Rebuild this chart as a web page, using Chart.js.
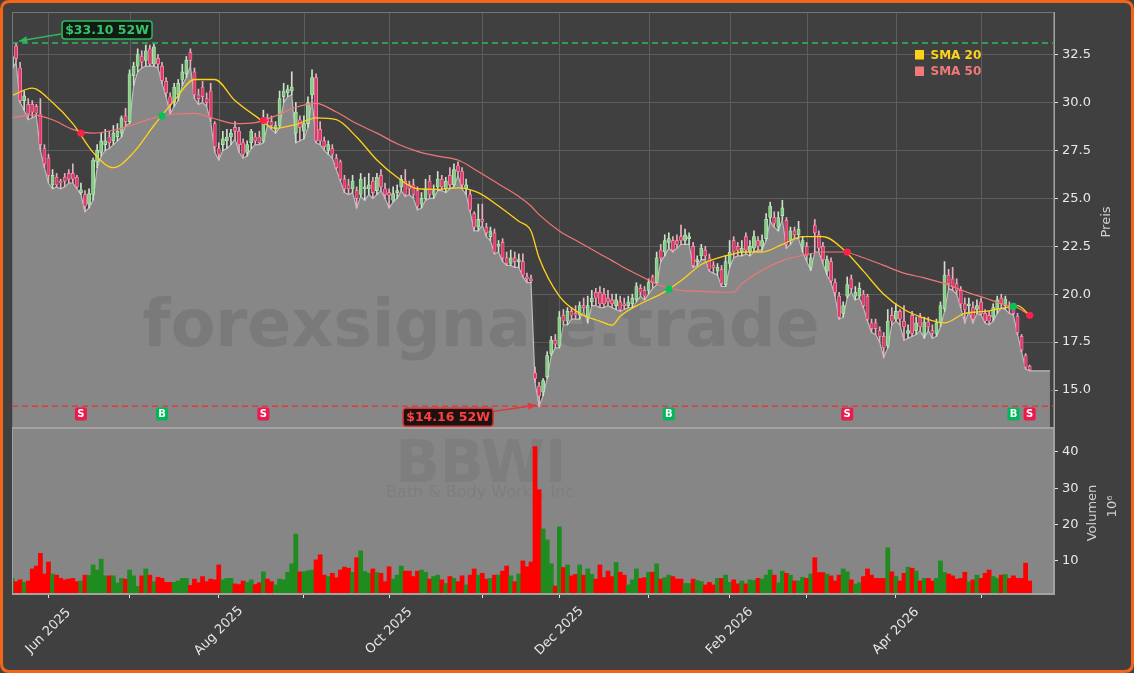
<!DOCTYPE html>
<html><head><meta charset="utf-8">
<script src="https://cdn.jsdelivr.net/npm/chart.js@4.4.1/dist/chart.umd.min.js"></script>
<style>html,body{margin:0;padding:0;background:#404040;overflow:hidden}canvas{display:block}</style>
</head><body>
<canvas id="c" width="1134" height="673"></canvas>
<script>
// ---------- DATA ----------
const startDate = '2025-05-19', endDate = '2026-05-19';
const holidays = ['2025-05-26','2025-06-19','2025-07-04','2025-09-01','2025-11-27','2025-12-25','2026-01-01','2026-01-19','2026-02-16','2026-04-03'];
const labeledMonths = ['Jun 2025','Aug 2025','Oct 2025','Dec 2025','Feb 2026','Apr 2026'];
const priceTicks = [15,17.5,20,22.5,25,27.5,30,32.5];
const volTicks = [10,20,30,40];

const opens = [
31.9,32.95,31.8,30.1,29.9,29.9,29.8,29.4,27.6,27.1,
25.7,26.1,25.9,26.1,26.3,26.3,26.1,25.3,25.2,24.7,
25.2,26.9,27.4,27.8,28.2,28.0,28.2,28.4,29.3,29.0,
31.4,31.9,32.4,32.2,32.8,32.0,32.3,31.9,31.1,30.3,
30.0,30.4,31.2,31.5,32.6,31.6,30.4,30.8,30.2,30.6,
28.9,27.6,27.8,28.0,28.2,28.7,28.5,27.9,27.4,27.9,
28.2,28.2,28.0,29.2,29.0,28.6,28.8,30.3,30.5,30.6,
28.4,29.1,28.5,28.9,30.4,31.3,28.6,28.0,27.5,27.6,
27.1,26.9,26.0,25.7,25.5,25.4,25.2,25.5,25.5,25.9,
25.4,26.2,25.5,25.3,24.9,25.3,25.6,25.9,25.7,25.7,
25.4,24.7,25.0,25.9,25.2,25.6,26.0,25.5,26.2,25.7,
26.7,26.4,25.5,25.2,24.2,23.5,23.9,23.5,23.0,23.2,
22.5,22.7,21.9,21.6,21.9,21.7,21.7,20.9,20.8,15.9,
15.2,14.9,15.7,16.9,17.6,17.3,18.9,18.6,19.1,19.0,
18.9,19.4,18.8,19.6,20.1,20.1,20.0,19.8,19.7,19.4,
19.6,19.5,19.4,19.5,19.7,20.3,20.2,20.2,20.9,20.6,
22.3,22.2,22.7,22.8,22.8,23.0,22.8,22.9,22.5,21.7,
22.0,22.3,21.9,21.5,21.2,21.3,20.5,21.6,22.8,22.5,
22.2,23.0,22.2,22.4,22.8,22.5,22.9,24.0,24.0,23.5,
24.1,23.85,22.8,23.3,23.1,22.5,22.5,21.4,23.6,23.1,
22.5,21.2,21.7,20.6,19.9,19.0,19.9,20.8,19.9,19.9,
20.0,19.9,18.5,18.5,18.1,17.8,17.3,18.9,18.7,19.1,
18.6,17.95,18.9,18.1,18.8,17.9,18.55,18.1,17.95,18.5,
19.25,21.0,20.8,20.55,20.2,19.5,19.4,19.3,19.2,19.6,
19.0,18.9,18.8,19.2,19.8,19.4,19.35,19.2,18.85,17.8,
16.8,16.25];
const highs = [
32.6,33.10,32.1,30.6,30.2,30.1,29.9,30.2,27.8,27.3,
26.5,26.3,26.0,26.3,26.5,26.8,26.2,25.8,25.4,25.5,
27.1,27.8,28.4,28.6,28.5,28.8,28.9,29.3,29.7,31.7,
32.1,32.8,32.7,33.0,33.0,33.05,32.5,32.1,31.3,30.5,
31.0,31.2,32.0,32.4,32.8,31.8,30.7,31.1,30.5,31.0,
29.0,27.9,28.5,28.6,28.6,29.0,28.7,28.1,28.0,28.6,
28.4,28.5,29.6,29.4,29.3,29.0,30.6,31.0,30.9,31.6,
30.0,29.3,29.3,30.3,31.7,31.5,29.0,28.2,28.0,27.8,
27.3,27.0,26.2,26.0,26.2,25.6,26.3,26.1,26.3,26.1,
26.3,26.5,25.8,25.5,25.6,25.7,26.2,26.5,25.9,26.0,
25.6,25.3,26.0,26.2,25.7,26.4,26.2,26.1,26.6,26.8,
26.9,26.6,26.0,25.4,24.3,24.7,24.7,23.7,23.5,23.4,
22.8,22.9,22.2,22.3,22.2,22.1,22.1,21.1,21.0,16.2,
15.4,15.6,17.0,17.8,17.9,19.1,19.2,19.3,19.3,19.4,
19.6,19.8,19.9,20.2,20.3,20.4,20.3,20.2,20.0,20.0,
19.9,19.8,19.9,20.0,20.6,20.5,20.4,20.8,21.0,22.2,
22.6,23.1,23.2,23.0,23.1,23.6,23.4,23.2,22.7,22.0,
22.6,22.5,22.1,21.7,21.6,21.5,22.0,22.8,23.0,22.7,
22.8,23.2,22.8,23.3,23.0,23.1,24.2,24.8,24.3,24.3,
24.9,24.0,23.5,23.5,23.8,23.0,22.7,22.1,23.9,23.3,
22.7,22.0,21.9,20.8,20.1,19.6,20.9,21.0,20.4,20.6,
20.2,20.0,18.7,18.7,18.3,18.0,19.2,19.3,19.5,19.2,
19.4,18.4,19.1,18.8,19.0,18.8,18.8,18.4,18.7,19.6,
21.7,21.3,21.4,20.8,20.4,19.8,19.8,19.6,19.7,19.8,
19.2,19.1,19.5,19.9,20.0,19.9,19.6,19.4,19.0,17.9,
16.9,16.3];
const lows = [
31.7,32.1,30.0,29.6,29.1,29.2,29.3,27.5,26.6,25.8,
25.5,25.6,25.5,25.6,25.8,25.8,25.5,25.2,24.3,24.5,
24.9,26.6,27.2,27.5,27.6,27.8,28.0,28.2,28.8,28.9,
30.9,31.6,31.8,31.9,31.9,31.9,31.8,31.0,30.3,29.4,
29.8,30.1,30.9,31.3,31.9,30.2,29.9,30.0,29.8,29.0,
27.4,27.0,27.5,27.6,27.8,28.1,27.4,27.1,27.2,27.6,
27.8,27.8,27.9,28.8,28.6,28.4,28.7,30.0,30.3,30.4,
27.9,28.0,28.1,28.7,30.2,27.9,27.8,27.5,27.3,27.1,
26.5,25.9,25.3,25.2,25.3,24.5,25.1,24.9,25.2,25.0,
25.2,25.4,25.0,24.5,24.8,25.0,25.4,25.1,25.2,25.0,
24.4,24.5,24.9,25.0,25.0,25.4,25.4,25.3,25.5,25.6,
26.2,25.5,25.2,24.3,23.3,23.3,23.6,23.0,22.8,22.1,
22.2,21.7,21.5,21.5,21.4,21.4,20.9,20.6,20.6,15.4,
14.16,14.7,15.6,16.8,17.2,17.2,18.4,18.4,18.7,18.7,
18.7,19.1,18.5,19.4,19.4,19.3,19.3,19.4,19.3,19.2,
19.1,19.2,19.3,19.3,19.6,19.9,19.7,20.0,20.3,20.5,
21.7,22.0,22.4,22.2,22.4,22.6,22.6,22.6,21.4,21.5,
21.8,21.8,21.2,21.1,21.0,20.4,20.4,21.4,21.9,22.0,
22.0,22.1,22.0,22.2,22.3,22.3,22.8,23.8,23.5,23.3,
23.9,22.4,22.6,22.9,22.9,22.2,21.7,21.25,22.2,22.2,
21.6,21.0,20.6,19.9,18.7,18.8,19.8,20.1,19.7,19.8,
19.3,18.6,18.0,17.9,17.5,16.7,17.2,18.4,18.6,18.4,
17.6,17.7,17.8,17.9,18.1,17.7,18.1,17.7,17.8,18.3,
19.1,20.3,20.2,20.0,19.3,18.5,19.1,18.5,19.0,18.9,
18.5,18.4,18.6,19.0,19.3,19.2,19.0,18.9,17.9,17.0,
16.1,16.0];
const closes = [
32.4,32.3,30.1,30.35,29.4,29.5,29.45,27.8,26.8,26.2,
26.2,25.7,25.8,25.9,26.0,26.0,25.6,25.45,24.6,25.25,
27.0,27.5,28.0,28.0,27.9,28.4,28.5,29.2,29.0,31.5,
31.9,32.5,32.1,32.7,32.0,32.9,32.0,31.15,30.5,29.9,
30.8,31.0,31.6,32.2,32.2,30.4,30.2,30.3,30.0,29.2,
27.7,27.3,28.1,28.2,28.4,28.5,27.8,27.3,27.8,28.5,
28.0,27.9,29.2,29.0,28.8,28.8,30.2,30.6,30.7,30.8,
29.5,28.7,28.9,30.0,31.3,28.0,28.0,27.7,27.8,27.3,
26.6,26.0,25.5,25.5,25.9,25.0,26.0,25.6,25.7,25.3,
26.1,25.6,25.2,25.15,25.25,25.4,26.0,25.2,25.5,25.2,
24.6,25.0,25.5,25.2,25.4,26.0,25.6,25.9,25.7,26.5,
26.4,25.7,25.7,24.4,23.5,23.9,23.8,23.2,23.3,22.2,
22.6,21.9,21.6,21.9,21.7,21.8,21.0,20.8,20.7,15.6,
14.7,15.5,16.8,17.6,17.4,18.8,18.6,19.1,18.9,18.9,
19.4,19.3,19.4,19.8,19.8,19.5,19.5,19.6,19.5,19.7,
19.2,19.4,19.6,19.8,20.4,20.1,19.9,20.6,20.6,21.9,
21.9,22.8,22.9,22.3,22.6,22.8,23.1,23.0,21.5,21.8,
22.4,22.0,21.3,21.4,21.4,20.55,21.7,22.2,22.2,22.3,
22.4,22.3,22.5,23.0,22.5,22.8,23.9,24.6,23.7,24.0,
24.5,22.6,23.3,23.1,23.4,22.8,22.0,21.9,23.2,22.4,
21.8,21.8,20.7,20.1,18.8,19.4,20.5,20.3,20.1,20.3,
19.4,18.7,18.2,18.2,17.8,17.2,18.6,18.6,19.1,18.7,
18.3,18.1,17.95,18.5,18.3,18.55,18.3,17.95,18.5,19.4,
21.0,20.55,20.4,20.2,19.5,19.2,19.5,18.7,19.4,19.0,
18.6,18.6,19.3,19.7,19.5,19.75,19.25,19.0,18.0,17.1,
16.2,16.05];
const volumes = [
5.2,4.3,4.8,4.1,4.5,7.8,8.6,12.1,6.4,9.7,
6.4,6.1,5.2,4.8,5.0,5.2,4.3,4.5,6.1,6.0,
8.9,7.5,10.5,5.9,5.9,5.9,3.9,5.2,5.0,7.5,
5.9,3.0,5.9,7.8,6.1,4.3,5.5,5.2,4.1,4.1,
4.1,4.5,5.2,5.2,3.3,5.0,4.0,5.7,4.3,5.0,
4.8,8.9,4.8,5.2,5.2,3.7,3.5,4.5,4.1,4.8,
3.5,4.0,7.0,5.0,4.3,3.4,5.0,4.8,6.9,9.2,
17.4,7.0,7.0,7.3,7.5,10.3,11.7,6.1,5.7,6.6,
5.4,7.5,8.3,8.0,6.9,10.9,12.8,7.1,6.6,7.8,
6.8,6.6,4.3,8.4,5.0,6.1,8.6,7.2,7.2,5.7,
7.2,7.5,6.9,5.0,5.7,6.1,4.8,3.8,5.7,5.2,
4.3,5.9,3.4,6.1,7.8,6.1,6.6,5.0,5.2,6.1,
6.1,7.2,8.6,5.9,4.3,6.4,10.0,8.4,9.7,41.5,
29.6,18.8,15.8,9.2,3.1,19.4,8.2,8.9,5.9,6.3,
8.9,6.1,7.8,6.3,5.0,8.9,5.4,7.2,5.7,9.6,
6.9,6.1,3.4,4.8,7.8,5.2,5.4,6.9,6.9,9.2,
5.0,5.4,6.1,5.7,5.0,5.0,3.8,3.8,5.0,4.6,
4.3,3.4,4.1,3.4,5.2,5.2,6.1,4.1,4.8,3.7,
4.5,3.7,4.8,4.6,5.2,5.0,6.1,7.5,6.1,4.0,
7.2,6.6,6.1,4.5,4.5,5.5,5.2,6.4,10.9,6.8,
6.8,6.4,5.9,4.5,6.1,7.8,7.0,4.8,3.6,4.0,
5.7,7.8,6.1,5.2,5.2,5.2,13.6,7.0,5.7,4.5,
6.6,8.3,8.0,7.2,4.5,5.2,5.2,4.5,5.2,10.0,
6.8,6.4,5.9,5.0,5.2,6.9,4.3,4.8,6.1,5.2,
6.6,7.5,5.7,5.2,6.1,6.3,5.2,5.9,5.2,5.2,
9.4,4.5];

// moving averages (trading-day index -> value)
const smaIdx = [0,5,10,15,20,25,30,35,40,45,50,55,60,65,70,75,80,85,90,95,100,105,110,115,120,125,128,130,135,140,145,148,150,155,160,165,170,175,178,180,185,190,195,200,205,210,215,220,225,230,235,240,245,248,251];
const sma20 = [30.36,30.75,30.0,28.9,27.4,26.6,27.4,28.8,30.1,31.2,31.2,30.1,29.3,28.65,28.85,29.2,29.1,28.2,27.0,26.1,25.5,25.47,25.55,25.3,24.6,23.8,23.3,21.9,19.9,19.0,18.6,18.38,18.85,19.5,20.0,20.7,21.55,21.95,22.1,22.2,22.2,22.6,23.0,23.0,22.35,21.2,20.0,19.2,18.75,18.5,19.0,19.1,19.3,19.4,18.9];
const sma50 = [29.2,29.35,29.1,28.6,28.4,28.55,28.85,29.2,29.4,29.43,29.15,28.9,28.95,29.3,29.75,29.95,29.5,28.9,28.4,27.85,27.45,27.2,27.0,26.4,25.75,25.1,24.6,24.15,23.3,22.7,22.1,21.75,21.5,20.95,20.45,20.2,20.15,20.1,20.1,20.55,21.25,21.75,22.03,22.2,22.2,21.9,21.5,21.1,20.85,20.55,20.15,19.8,19.45,19.3,18.9];

// SMA crossover signals
const signalIdx = [17,37,62,162,206,247,251];
const signalType = ['S','B','S','B','S','B','S'];
const signalPrice = [28.4,29.3,29.06,20.26,22.2,19.37,18.9];

// 52-week extremes
const high52 = {value:33.10, idx:1, label:'$33.10 52W'};
const low52 = {value:14.16, idx:130, label:'$14.16 52W'};
const areaEndIdx = 256;
const legendItems = [{label:'SMA 20', color:'#ffd21a'},{label:'SMA 50', color:'#f07a7a'}];

// ---------- trading calendar ----------
const tradingDates = [];
for (let d = new Date(startDate+'T00:00:00Z'); d <= new Date(endDate+'T00:00:00Z'); d.setUTCDate(d.getUTCDate()+1)) {
  const dow = d.getUTCDay(); const s = d.toISOString().slice(0,10);
  if (dow===0 || dow===6 || holidays.includes(s)) continue;
  tradingDates.push(s);
}
const MN = ['Jan','Feb','Mar','Apr','May','Jun','Jul','Aug','Sep','Oct','Nov','Dec'];
const monthTicks = [];
for (let i=1;i<tradingDates.length;i++){
  if (tradingDates[i].slice(5,7)!==tradingDates[i-1].slice(5,7)){
    monthTicks.push({idx:i, label: MN[+tradingDates[i].slice(5,7)-1]+' '+tradingDates[i].slice(0,4)});
  }
}

const N = opens.length;
const ids = [...Array(N).keys()];
const up = i => closes[i] >= opens[i];
const areaData = lows.map((v,i)=>({x:i,y:v}));
areaData.push({x:areaEndIdx, y:lows[N-1]});

const FONT = "'DejaVu Sans', sans-serif";
Chart.defaults.font.family = FONT;

function rr(ctx,x,y,w,h,r){ctx.beginPath();ctx.moveTo(x+r,y);ctx.lineTo(x+w-r,y);ctx.quadraticCurveTo(x+w,y,x+w,y+r);ctx.lineTo(x+w,y+h-r);ctx.quadraticCurveTo(x+w,y+h,x+w-r,y+h);ctx.lineTo(x+r,y+h);ctx.quadraticCurveTo(x,y+h,x,y+h-r);ctx.lineTo(x,y+r);ctx.quadraticCurveTo(x,y,x+r,y);ctx.closePath();}
function arrow(ctx,x1,y1,x2,y2,color){
  ctx.strokeStyle=color;ctx.fillStyle=color;ctx.lineWidth=1.5;
  ctx.beginPath();ctx.moveTo(x1,y1);ctx.lineTo(x2,y2);ctx.stroke();
  const a=Math.atan2(y2-y1,x2-x1),L=8,w=3.5;
  ctx.beginPath();ctx.moveTo(x2,y2);
  ctx.lineTo(x2-L*Math.cos(a)+w*Math.sin(a),y2-L*Math.sin(a)-w*Math.cos(a));
  ctx.lineTo(x2-L*Math.cos(a)-w*Math.sin(a),y2-L*Math.sin(a)+w*Math.cos(a));
  ctx.closePath();ctx.fill();
}

const decor = {
  id:'decor',
  beforeDraw(chart){
    const ctx=chart.ctx, ca=chart.chartArea, ys=chart.scales.y, yv=chart.scales.yv;
    ctx.save();
    ctx.fillStyle='#404040';ctx.fillRect(0,0,chart.width,chart.height);
    ctx.fillStyle='#868686';ctx.fillRect(ca.left, ys.bottom, ca.right-ca.left, yv.bottom-ys.bottom);
    ctx.restore();
  },
  beforeDatasetsDraw(chart){
    const ctx=chart.ctx, ca=chart.chartArea, xs=chart.scales.x, ys=chart.scales.y;
    ctx.save();ctx.strokeStyle='#5e5e5e';ctx.lineWidth=1;
    monthTicks.forEach(t=>{const px=Math.round(xs.getPixelForValue(t.idx))+0.5;ctx.beginPath();ctx.moveTo(px,ca.top);ctx.lineTo(px,ys.bottom);ctx.stroke();});
    ctx.restore();
  },
  afterDatasetDraw(chart,args){
    if(args.index!==0) return;
    const ctx=chart.ctx;
    ctx.save();ctx.textAlign='center';ctx.textBaseline='alphabetic';
    ctx.fillStyle='rgba(40,40,40,0.14)';ctx.font='bold 65px '+FONT;ctx.fillText('forexsignale.trade',481,346);
    ctx.fillStyle='rgba(40,40,40,0.08)';ctx.font='bold 58px '+FONT;ctx.fillText('BBWI',481,482);
    ctx.font='16px '+FONT;ctx.fillText('Bath & Body Works, Inc',480,497);
    ctx.restore();
  },
  afterDatasetsDraw(chart){
    const ctx=chart.ctx, ca=chart.chartArea, xs=chart.scales.x, ys=chart.scales.y, yv=chart.scales.yv;
    ctx.save();
    // 52W lines
    const hy=ys.getPixelForValue(high52.value), ly=ys.getPixelForValue(low52.value);
    ctx.lineWidth=1.5;ctx.setLineDash([6,4]);
    ctx.strokeStyle='#2db85c';ctx.beginPath();ctx.moveTo(ca.left,hy);ctx.lineTo(ca.right,hy);ctx.stroke();
    ctx.strokeStyle='#e03a3a';ctx.beginPath();ctx.moveTo(ca.left,ly);ctx.lineTo(ca.right,ly);ctx.stroke();
    ctx.setLineDash([]);
    // label boxes
    ctx.font='bold 12.5px '+FONT;ctx.textAlign='center';ctx.textBaseline='middle';
    const hx=xs.getPixelForValue(high52.idx);
    let bx=hx+46, by=hy-22, bw=90, bh=18;
    arrow(ctx,bx-1,by+13,hx+3,hy-2,'#2db85c');
    rr(ctx,bx,by,bw,bh,3);ctx.fillStyle='#111a13';ctx.fill();ctx.strokeStyle='#2db85c';ctx.lineWidth=1.5;ctx.stroke();
    ctx.fillStyle='#34c56a';ctx.fillText(high52.label,bx+bw/2,by+bh/2+0.5);
    const lx=xs.getPixelForValue(low52.idx);
    bx=lx-46-bw; by=ly+2;
    arrow(ctx,bx+bw+1,by+3,lx-3,ly-1,'#e03a3a');
    rr(ctx,bx,by,bw,bh,3);ctx.fillStyle='#1c1212';ctx.fill();ctx.strokeStyle='#d83232';ctx.lineWidth=1.5;ctx.stroke();
    ctx.fillStyle='#ff4040';ctx.fillText(low52.label,bx+bw/2,by+bh/2+0.5);
    // signal markers
    ctx.font='bold 10px '+FONT;
    signalIdx.forEach((idx,k)=>{
      const px=xs.getPixelForValue(idx), cy=ys.bottom-14;
      rr(ctx,px-6,cy-6.5,12,13,2);ctx.fillStyle=signalType[k]==='B'?'#00b85a':'#ec1b4e';ctx.fill();
      ctx.fillStyle='#ffffff';ctx.fillText(signalType[k],px,cy+0.5);
    });
    // legend
    ctx.textAlign='left';ctx.font='bold 12px '+FONT;ctx.textBaseline='alphabetic';
    legendItems.forEach((it,k)=>{
      const y0=50+k*16.5;
      ctx.fillStyle=it.color;ctx.fillRect(915,y0,9,9.5);
      ctx.fillText(it.label,930.5,y0+8.8);
    });
    // frames
    ctx.lineWidth=1;ctx.strokeStyle='#767676';
    ctx.strokeRect(ca.left+0.5,ca.top+0.5,ca.right-ca.left-1,ys.bottom-ca.top-1);
    ctx.strokeStyle='#a2a2a2';
    ctx.strokeRect(ca.left+0.5,ys.bottom+0.5,ca.right-ca.left-1,yv.bottom-ys.bottom-1);
    ctx.lineWidth=2;ctx.beginPath();ctx.moveTo(ca.left,ys.bottom);ctx.lineTo(ca.right,ys.bottom);ctx.stroke();
    // axis titles
    ctx.fillStyle='#d0d0d0';ctx.font='13px '+FONT;ctx.textAlign='center';ctx.textBaseline='middle';
    const t=(txt,x,y)=>{ctx.save();ctx.translate(x,y);ctx.rotate(-Math.PI/2);ctx.fillText(txt,0,0);ctx.restore();};
    t('Preis',1106.5,(ys.top+ys.bottom)/2+2);
    t('Volumen',1092.5,(yv.top+yv.bottom)/2+2);
    t('10\u2076',1112.5,(yv.top+yv.bottom)/2-4.5);
    // x labels
    ctx.fillStyle='#e6e6e6';ctx.font='13px '+FONT;
    monthTicks.filter(m=>labeledMonths.includes(m.label)).forEach(m=>{
      const px=xs.getPixelForValue(m.idx);
      ctx.save();ctx.translate(px,ca.bottom+37);ctx.rotate(-Math.PI/4);ctx.fillText(m.label,0,0);ctx.restore();
    });
    // outer orange border
    ctx.strokeStyle='#f2661a';ctx.lineWidth=3;rr(ctx,1.5,1.5,chart.width-3,chart.height-3,8);ctx.stroke();
    ctx.restore();
  }
};

new Chart(document.getElementById('c'), {
  type:'bar',
  data:{datasets:[
    {type:'line',label:'area',data:areaData,yAxisID:'y',xAxisID:'x',borderColor:'#bdbdbd',borderWidth:1.2,backgroundColor:'#878787',fill:'start',pointRadius:0,tension:0,order:10},
    {type:'bar',label:'Volumen',data:volumes.map((v,i)=>({x:i,y:v})),yAxisID:'yv',xAxisID:'x',backgroundColor:ids.map(i=>up(i)?'#1f8c1f':'#ff0000'),barThickness:4.1,grouped:false,order:9},
    {type:'bar',label:'wick',data:ids.map(i=>({x:i,y:[Math.min(lows[i],opens[i],closes[i]),Math.max(highs[i],opens[i],closes[i])]})),yAxisID:'y',xAxisID:'x',backgroundColor:ids.map(i=>up(i)?'#cfe0cf':'#e8b0bf'),barThickness:1,grouped:false,order:6},
    {type:'bar',label:'body',data:ids.map(i=>({x:i,y:[Math.min(opens[i],closes[i]),Math.max(opens[i],closes[i])]})),yAxisID:'y',xAxisID:'x',backgroundColor:ids.map(i=>up(i)?'#86d086':'#e0386a'),borderColor:ids.map(i=>up(i)?'#bfe8bf':'#f59ab4'),borderWidth:0.7,borderSkipped:false,minBarLength:1.5,barThickness:3.2,grouped:false,order:5},
    {type:'line',label:'SMA 50',data:smaIdx.map((x,k)=>({x,y:sma50[k]})),yAxisID:'y',xAxisID:'x',borderColor:'#ef7676',borderWidth:1.2,pointRadius:0,cubicInterpolationMode:'monotone',fill:false,order:4},
    {type:'line',label:'SMA 20',data:smaIdx.map((x,k)=>({x,y:sma20[k]})),yAxisID:'y',xAxisID:'x',borderColor:'#ffd21a',borderWidth:1.3,pointRadius:0,cubicInterpolationMode:'monotone',fill:false,order:3},
    {type:'scatter',label:'cross',data:signalIdx.map((x,k)=>({x,y:signalPrice[k]})),yAxisID:'y',xAxisID:'x',pointRadius:3.6,pointBackgroundColor:signalType.map(t=>t==='B'?'#00c45a':'#ff1f4d'),pointBorderWidth:0,order:1}
  ]},
  options:{
    responsive:false,animation:false,events:[],devicePixelRatio:1,
    layout:{padding:{left:12,top:12,right:0,bottom:0}},
    plugins:{legend:{display:false},tooltip:{enabled:false}},
    scales:{
      x:{type:'linear',position:'bottom',min:0,max:257,offset:false,
        afterBuildTicks:s=>{s.ticks=monthTicks.map(m=>({value:m.idx}));},
        ticks:{display:false},
        grid:{drawOnChartArea:false,drawTicks:true,tickLength:4,tickColor:'#e0e0e0',offset:false},
        border:{display:true,color:'#a2a2a2'},
        afterFit:s=>{s.height=79;}},
      y:{type:'linear',position:'right',stack:'panes',stackWeight:416,min:13.02,max:34.72,
        afterBuildTicks:s=>{s.ticks=priceTicks.map(v=>({value:v}));},
        ticks:{color:'#e8e8e8',font:{size:13,family:FONT},padding:4,callback:v=>Number(v).toFixed(1)},
        grid:{color:'#5e5e5e',lineWidth:1,drawTicks:true,tickLength:4,tickColor:'#e0e0e0'},
        border:{display:true,color:'#a2a2a2'},
        afterFit:s=>{s.width=80;}},
      yv:{type:'linear',position:'right',stack:'panes',stackWeight:166,min:0.9,max:46.6,
        afterBuildTicks:s=>{s.ticks=volTicks.map(v=>({value:v}));},
        ticks:{color:'#e8e8e8',font:{size:13,family:FONT},padding:4,callback:v=>String(v)},
        grid:{drawOnChartArea:false,drawTicks:true,tickLength:4,tickColor:'#e0e0e0'},
        border:{display:true,color:'#a2a2a2'},
        afterFit:s=>{s.width=80;}}
    }
  },
  plugins:[decor]
});
</script>
</body></html>
